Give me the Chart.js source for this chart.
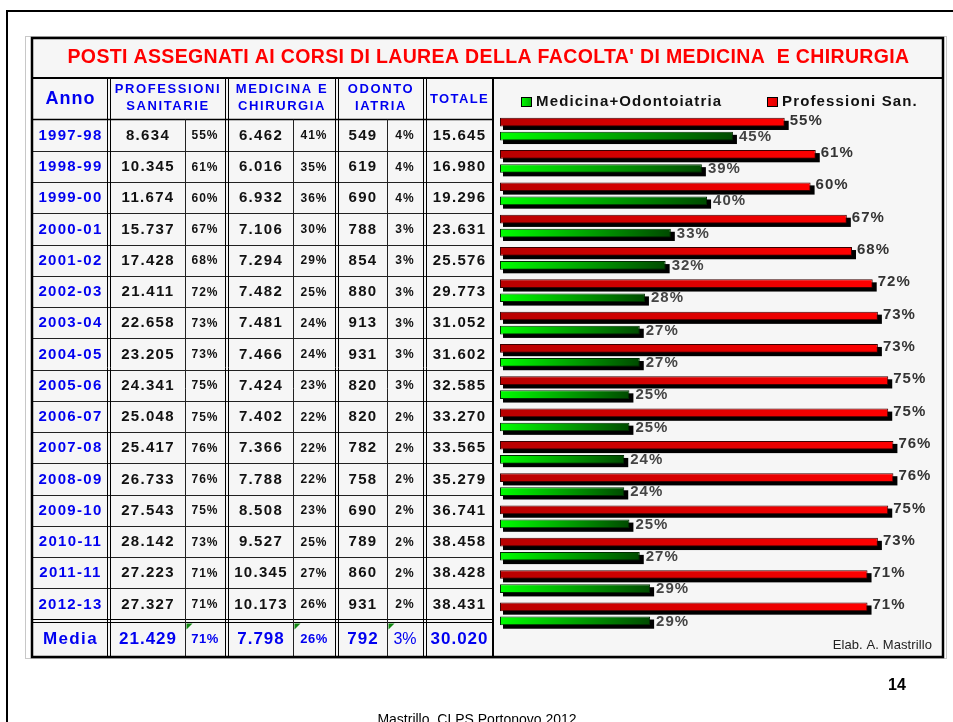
<!DOCTYPE html>
<html>
<head>
<meta charset="utf-8">
<script src="https://cdn.jsdelivr.net/npm/chart.js@4.4.1/dist/chart.umd.min.js"></script>
<style>
  html, body { margin: 0; padding: 0; background: #fff; overflow: hidden; }
  canvas { display: block; }
</style>
</head>
<body>
<canvas id="posti" width="953" height="722"></canvas>
<script>
// ─── Data ────────────────────────────────────────────────────────────────
const TITLE = "POSTI ASSEGNATI AI CORSI DI LAUREA DELLA FACOLTA' DI MEDICINA  E CHIRURGIA";
const years = ['1997-98', '1998-99', '1999-00', '2000-01', '2001-02', '2002-03', '2003-04', '2004-05',
               '2005-06', '2006-07', '2007-08', '2008-09', '2009-10', '2010-11', '2011-11', '2012-13'];
const profN   = [8634, 10345, 11674, 15737, 17428, 21411, 22658, 23205, 24341, 25048, 25417, 26733, 27543, 28142, 27223, 27327];
const profPct = [55, 61, 60, 67, 68, 72, 73, 73, 75, 75, 76, 76, 75, 73, 71, 71];
const medN    = [6462, 6016, 6932, 7106, 7294, 7482, 7481, 7466, 7424, 7402, 7366, 7788, 8508, 9527, 10345, 10173];
const medPct  = [41, 35, 36, 30, 29, 25, 24, 24, 23, 22, 22, 22, 23, 25, 27, 26];
const odoN    = [549, 619, 690, 788, 854, 880, 913, 931, 820, 820, 782, 758, 690, 789, 860, 931];
const odoPct  = [4, 4, 4, 3, 3, 3, 3, 3, 3, 2, 2, 2, 2, 2, 2, 2];
const totN    = [15645, 16980, 19296, 23631, 25576, 29773, 31052, 31602, 32585, 33270, 33565, 35279, 36741, 38458, 38428, 38431];
const media   = [21429, 71, 7798, 26, 792, 3, 30020];

// bar panel series (percent shares)
const barProf   = [55, 61, 60, 67, 68, 72, 73, 73, 75, 75, 76, 76, 75, 73, 71, 71];
const barMedOdo = [45, 39, 40, 33, 32, 28, 27, 27, 25, 25, 24, 24, 25, 27, 29, 29];
const seriesNames = ['Professioni San.', 'Medicina+Odontoiatria'];

// ─── Helpers ─────────────────────────────────────────────────────────────
const FONT = '"Liberation Sans", Arial, sans-serif';
const BLUE = '#0000f0';

function fmt(n) {
    if (n < 1000) return String(n);
    return Math.floor(n / 1000) + '.' + String(n % 1000).padStart(3, '0');
}

function txt(c, s, x, y, size, color, opts = {}) {
    c.font = (opts.weight || 'bold') + ' ' + size + 'px ' + FONT;
    c.fillStyle = color;
    c.textAlign = opts.align || 'center';
    c.textBaseline = 'middle';
    c.letterSpacing = (opts.sp || 0) + 'px';
    c.fillText(s, x, y);
    c.letterSpacing = '0px';
}

function line(c, x1, y1, x2, y2, w, color) {
    c.beginPath();
    c.lineWidth = w;
    c.strokeStyle = color || '#000';
    c.moveTo(x1, y1);
    c.lineTo(x2, y2);
    c.stroke();
}

function barFill(ctx, from, to) {
    const chart = ctx.chart;
    if (!chart.chartArea || ctx.raw == null) return to;
    const xs = chart.scales.x;
    const g = chart.ctx.createLinearGradient(xs.getPixelForValue(0), 0, xs.getPixelForValue(ctx.raw), 0);
    g.addColorStop(0, from);
    g.addColorStop(1, to);
    return g;
}

// ─── Table geometry ──────────────────────────────────────────────────────
const FR = { l: 32, t: 38, r: 943, b: 657 };
const cols = [[34, 107], [111, 185], [185, 225], [229, 293], [293, 335], [339, 387], [387, 423], [427, 492]];
const ROW_TOP = 119.5, ROW_H = 31.25, MEDIA_TOP = 622.5, MEDIA_BOT = 656;
const cx = i => (cols[i][0] + cols[i][1]) / 2;

// ─── Slide + table plugin ────────────────────────────────────────────────
const slidePlugin = {
    id: 'slide',
    beforeDraw(chart) {
        const c = chart.ctx;
        c.save();
        c.fillStyle = '#fff';
        c.fillRect(0, 0, chart.width, chart.height);

        // slide frame
        line(c, 7, 11, 953, 11, 2);
        line(c, 7, 10, 7, 722, 2);

        // spreadsheet gridline edge
        c.strokeStyle = '#c8c8c8';
        c.lineWidth = 1;
        c.strokeRect(25.5, 36.5, 921, 622);

        // panel background
        c.fillStyle = '#f6f6f6';
        c.fillRect(FR.l, FR.t, FR.r - FR.l, FR.b - FR.t);

        // title
        txt(c, TITLE, (FR.l + FR.r) / 2 + 1, 58, 19.5, '#ff0000', { sp: 0.35 });

        // header
        txt(c, 'Anno', cx(0), 99, 18, BLUE, { sp: 1 });
        const groups = [['PROFESSIONI', 'SANITARIE', 1, 2], ['MEDICINA E', 'CHIRURGIA', 3, 4], ['ODONTO', 'IATRIA', 5, 6]];
        groups.forEach(([a, b, i, j]) => {
            const x = (cols[i][0] + cols[j][1]) / 2;
            txt(c, a, x, 89.5, 13, BLUE, { sp: 1.6 });
            txt(c, b, x, 106, 13, BLUE, { sp: 1.6 });
        });
        txt(c, 'TOTALE', cx(7), 99, 13, BLUE, { sp: 1.4 });

        // data rows
        years.forEach((y, r) => {
            const yc = ROW_TOP + ROW_H * (r + 0.5) + 0.5;
            txt(c, y, cx(0), yc, 15, BLUE, { sp: 1.3 });
            txt(c, fmt(profN[r]), cx(1), yc, 15, '#111', { sp: 1.3 });
            txt(c, profPct[r] + '%', cx(2), yc + 0.5, 12, '#111', { sp: 1 });
            txt(c, fmt(medN[r]), cx(3), yc, 15, '#111', { sp: 1.3 });
            txt(c, medPct[r] + '%', cx(4), yc + 0.5, 12, '#111', { sp: 1 });
            txt(c, fmt(odoN[r]), cx(5), yc, 15, '#111', { sp: 1.3 });
            txt(c, odoPct[r] + '%', cx(6), yc + 0.5, 12, '#111', { sp: 1 });
            txt(c, fmt(totN[r]), cx(7), yc, 15, '#111', { sp: 1.3 });
        });

        // media row
        const ym = (MEDIA_TOP + MEDIA_BOT) / 2 + 0.5;
        txt(c, 'Media', cx(0), ym, 17, BLUE, { sp: 1.4 });
        txt(c, fmt(media[0]), cx(1), ym, 17, BLUE, { sp: 1 });
        txt(c, media[1] + '%', cx(2), ym, 13, BLUE, { sp: 0.5 });
        txt(c, fmt(media[2]), cx(3), ym, 17, BLUE, { sp: 1 });
        txt(c, media[3] + '%', cx(4), ym, 13, BLUE, { sp: 0.5 });
        txt(c, fmt(media[4]), cx(5), ym, 17, BLUE, { sp: 1 });
        txt(c, media[5] + '%', cx(6), ym, 16, BLUE, { weight: 'normal', sp: 0 });
        txt(c, fmt(media[6]), cx(7), ym, 17, BLUE, { sp: 1 });

        // excel warning triangles
        c.fillStyle = '#118811';
        [185.5, 293.5, 387.5].forEach(x => {
            c.beginPath();
            c.moveTo(x + 1, MEDIA_TOP + 1);
            c.lineTo(x + 7, MEDIA_TOP + 1);
            c.lineTo(x + 1, MEDIA_TOP + 7);
            c.closePath();
            c.fill();
        });

        // grid lines
        for (let r = 1; r < years.length; r++) {
            const y = Math.round(ROW_TOP + ROW_H * r) + 0.5;
            line(c, FR.l, y, 492, y, 1, '#222');
        }
        line(c, FR.l, ROW_TOP, 492, ROW_TOP, 1.5);
        line(c, FR.l, 619.5, 492, 619.5, 1);
        line(c, FR.l, 622.5, 492, 622.5, 1);
        [185.5, 293.5, 387.5].forEach(x => line(c, x, ROW_TOP, x, FR.b, 1, '#222'));
        [107.5, 110.5, 225.5, 228.5, 335.5, 338.5, 423.5, 426.5].forEach(x => line(c, x, 78, x, FR.b, 1));
        line(c, 493, 78, 493, FR.b, 2);
        line(c, FR.l, 78, FR.r, 78, 2);

        c.lineWidth = 2.5;
        c.strokeStyle = '#000';
        c.strokeRect(FR.l, FR.t, FR.r - FR.l, FR.b - FR.t);

        // legend (Medicina first, then Professioni)
        const legend = [
            { name: seriesNames[1], x: 521, from: '#00ff00', to: '#00aa00' },
            { name: seriesNames[0], x: 767, from: '#ff0000', to: '#dd0000' }
        ];
        legend.forEach(it => {
            const g = c.createLinearGradient(it.x, 0, it.x + 11, 0);
            g.addColorStop(0, it.from);
            g.addColorStop(1, it.to);
            c.fillStyle = g;
            c.fillRect(it.x, 97, 11, 10);
            c.lineWidth = 1;
            c.strokeStyle = '#000';
            c.strokeRect(it.x + 0.5, 97.5, 10, 9);
            txt(c, it.name, it.x + 15, 102, 15, '#111', { align: 'left', sp: 1.15 });
        });

        // credit
        txt(c, 'Elab. A. Mastrillo', 932, 645, 13, '#222', { align: 'right', weight: 'normal', sp: 0.1 });

        // slide footer
        txt(c, '14', 897, 686, 16, '#000');
        txt(c, 'Mastrillo, CLPS Portonovo 2012', 477, 720, 14, '#000', { weight: 'normal' });
        c.restore();
    }
};

// ─── Bar shadow + value labels ───────────────────────────────────────────
const shadowPlugin = {
    id: 'barShadow',
    beforeDatasetsDraw(chart) {
        const c = chart.ctx;
        c.save();
        c.fillStyle = '#000';
        chart.data.datasets.forEach((ds, di) => {
            chart.getDatasetMeta(di).data.forEach(bar => {
                const { x, y, base, height } = bar.getProps(['x', 'y', 'base', 'height'], true);
                c.fillRect(base + 3, y - height / 2 + 3, x - base + 1, height + 0.5);
            });
        });
        c.restore();
    }
};

const labelPlugin = {
    id: 'pctLabels',
    afterDraw(chart) {
        const c = chart.ctx;
        chart.data.datasets.forEach((ds, di) => {
            chart.getDatasetMeta(di).data.forEach((bar, i) => {
                const v = ds.data[i];
                if (v == null) return;
                if (di === 0) txt(c, v + '%', bar.x + 5, bar.y - 1.5, 15, '#333', { align: 'left', sp: 1 });
                else txt(c, v + '%', bar.x + 6, bar.y + 0.5, 15, '#444', { align: 'left', sp: 1 });
            });
        });
    }
};

new Chart(document.getElementById('posti'), {
    type: 'bar',
    data: {
        labels: years,
        datasets: [
            {
                label: seriesNames[0],
                data: barProf,
                backgroundColor: ctx => barFill(ctx, '#b80000', '#ff0000'),
                borderColor: '#3a0000',
                borderWidth: 1,
                borderSkipped: false,
                categoryPercentage: 0.87,
                barPercentage: 0.62
            },
            {
                label: seriesNames[1],
                data: barMedOdo,
                backgroundColor: ctx => barFill(ctx, '#00ff00', '#004a00'),
                borderColor: '#002a00',
                borderWidth: 1,
                borderSkipped: false,
                categoryPercentage: 0.87,
                barPercentage: 0.62
            }
        ]
    },
    options: {
        indexAxis: 'y',
        responsive: false,
        animation: false,
        layout: { padding: { left: 500, right: 13, top: 113, bottom: 92 } },
        scales: {
            x: { display: false, min: 0, max: 85 },
            y: { display: false }
        },
        plugins: {
            legend: { display: false },
            tooltip: { enabled: false }
        }
    },
    plugins: [slidePlugin, shadowPlugin, labelPlugin]
});
</script>
</body>
</html>
